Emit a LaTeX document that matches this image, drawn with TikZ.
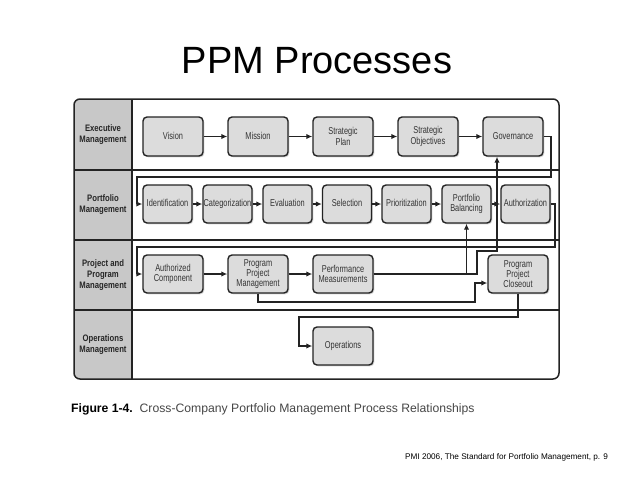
\documentclass[tikz,border=0pt]{standalone}
\usepackage{fontspec}
\setmainfont{Liberation Sans}
\newfontfamily\boxfont[FakeStretch=0.74]{Liberation Sans}
\newfontfamily\lblfont[FakeStretch=0.82]{Liberation Sans}
\usetikzlibrary{arrows.meta,shadows,calc}
\definecolor{boxfill}{RGB}{220,220,220}
\definecolor{colfill}{RGB}{200,200,200}
\definecolor{linec}{RGB}{35,35,35}
\definecolor{capgray}{RGB}{70,70,70}
\begin{document}
\begin{tikzpicture}[x=1pt,y=-1pt,
  pbox/.style={draw=linec, line width=1.4pt, fill=boxfill, rounded corners=4pt,
    drop shadow={shadow xshift=1.3pt, shadow yshift=-1.3pt, opacity=0.35},
    font=\boxfont\fontsize{10}{10.2}\selectfont, text=black!80, align=center, inner sep=0.5pt},
  ebox/.style={pbox, minimum width=60pt, minimum height=39pt},
  fbox/.style={pbox, minimum width=49pt, minimum height=38pt},
  oneline/.style={text height=7.2pt, text depth=2.2pt},
  lbl/.style={font=\lblfont\bfseries\fontsize{9.4}{11}\selectfont, text=black!85, align=center},
  conn/.style={draw=linec, line width=1.2pt},
  arr/.style={conn, -{Latex[length=6pt,width=5.5pt]}}]
\useasboundingbox (0,0) rectangle (638,479);

% title
\node[anchor=base, font=\fontsize{38}{40}\selectfont, inner sep=0] (title) at (317,73) {PPM Processes};

% frame
\begin{scope}
  \clip[rounded corners=6pt] (74,99) rectangle (559,379);
  \fill[colfill] (74,99) rectangle (132,379);
\end{scope}
\foreach \yy in {170,240,310} \draw[linec, line width=1.3pt] (74,\yy) -- (559,\yy);
\draw[linec, line width=1.3pt] (132,99) -- (132,379);
\draw[linec, line width=1.5pt, rounded corners=6pt] (74,99) rectangle (559,379);

% row labels
\node[lbl] (l1) at (103,135) {Executive\\Management};
\node[lbl] (l2) at (103,205) {Portfolio\\Management};
\node[lbl] (l3) at (103,275) {Project and\\Program\\Management};
\node[lbl] (l4) at (103,345) {Operations\\Management};

% executive row
\node[ebox, oneline] (vis) at (173,136.5) {Vision};
\node[ebox, oneline] (mis) at (258,136.5) {Mission};
\node[ebox] (sp)  at (343,136.5) {Strategic\\Plan};
\node[ebox] (so)  at (428,136.5) {Strategic\\Objectives};
\node[ebox, oneline] (gov) at (513,136.5) {Governance};

% portfolio row
\node[fbox, oneline] (ide) at (167.5,204) {Identification};
\node[fbox, oneline] (cat) at (227.5,204) {Categorization};
\node[fbox, oneline] (eva) at (287.5,204) {Evaluation};
\node[fbox, oneline] (sel) at (347,204) {Selection};
\node[fbox, oneline] (pri) at (406.5,204) {Prioritization};
\node[fbox] (pb)  at (466.5,204) {Portfolio\\Balancing};
\node[fbox, oneline] (aut) at (525.5,204) {Authorization};

% project row
\node[ebox, minimum height=38pt] (ac)  at (173,274) {Authorized\\Component};
\node[ebox, minimum height=38pt] (ppm) at (258,274) {Program\\Project\\Management};
\node[ebox, minimum height=38pt] (pm)  at (343,274) {Performance\\Measurements};
\node[ebox, minimum height=38pt] (clo) at (518,274) {Program\\Project\\Closeout};

% operations row
\node[ebox, oneline, minimum height=38pt] (ops) at (343,346) {Operations};

% connectors executive
\draw[arr] (vis) -- (mis);
\draw[arr] (mis) -- (sp);
\draw[arr] (sp) -- (so);
\draw[arr] (so) -- (gov);
\coordinate (g1) at (551,177);
\coordinate (g2) at (137,177);
\draw[arr] (gov.east) -| (g1) -- (g2) |- (ide.west);

% connectors portfolio
\draw[arr] (ide) -- (cat);
\draw[arr] (cat) -- (eva);
\draw[arr] (eva) -- (sel);
\draw[arr] (sel) -- (pri);
\draw[arr] (pri) -- (pb);
\draw[arr] (pb) -- (aut);
\coordinate (a1) at (555,247);
\coordinate (a2) at (137,247);
\draw[arr] (aut.east) -| (a1) -- (a2) |- (ac.west);

% connectors project
\draw[arr] (ac) -- (ppm);
\draw[arr] (ppm) -- (pm);
\draw[arr] (pm.east) -| (pb.south);
\coordinate (k1) at (477,251);
\draw[arr] (pm.east) -| (k1) -| ($(gov.south)+(-16,0)$);
\coordinate (k2) at (475,302);
\draw[arr] (ppm.south) |- (k2) |- ($(clo.west)+(0,9)$);
\coordinate (k3) at (299,317);
\draw[arr] (clo.south) |- (k3) |- (ops.west);

% caption
\node[anchor=base west, inner sep=0, font=\fontsize{12.2}{14}\selectfont] (cap) at (71,412)
  {\textbf{Figure 1-4.}\ \ \textcolor{capgray}{Cross-Company Portfolio Management Process Relationships}};
\node[anchor=base west, inner sep=0, font=\fontsize{8.2}{10}\selectfont] (src) at (405,459)
  {PMI 2006, The Standard for Portfolio Management, p. 9};
\end{tikzpicture}
\end{document}
